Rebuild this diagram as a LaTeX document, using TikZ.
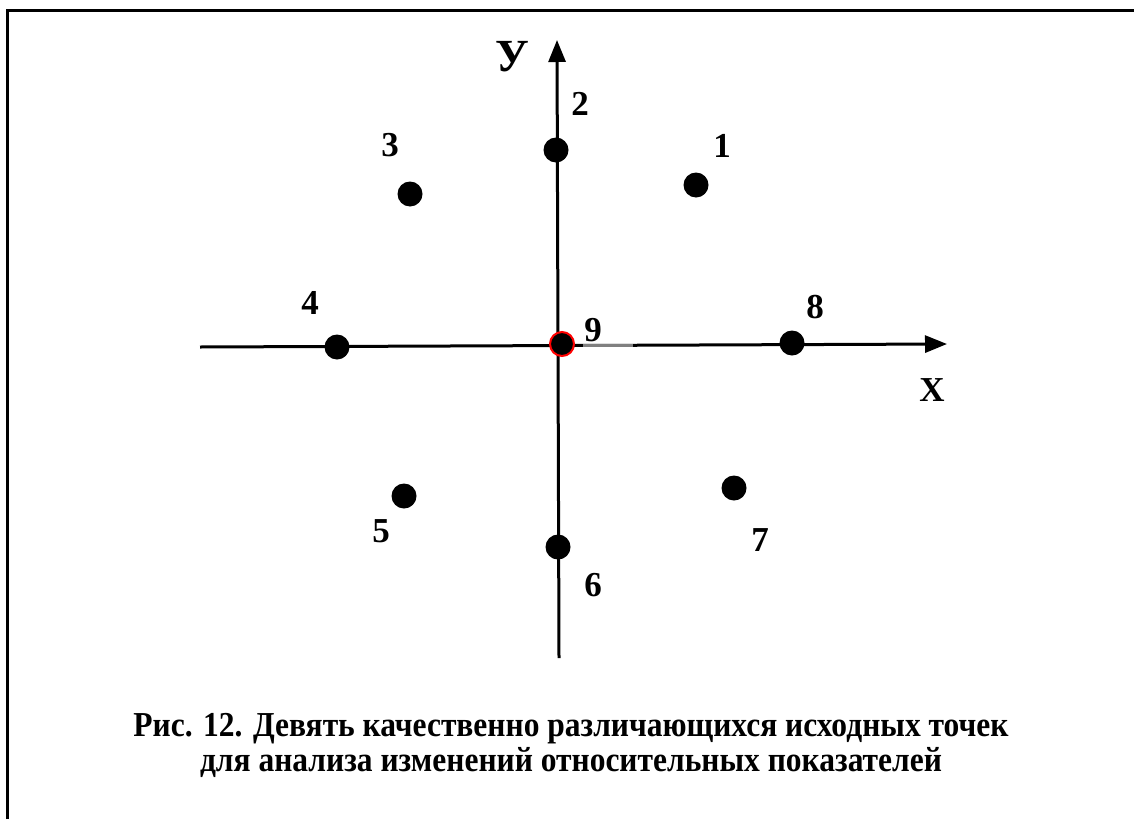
\documentclass[tikz,border=0pt]{standalone}
\usepackage{fontspec}
\setmainfont{Liberation Serif}
\newfontfamily\capfont[FakeStretch=0.9]{Liberation Serif}
\usetikzlibrary{arrows.meta}
\begin{document}
\begin{tikzpicture}[x=1pt,y=-1pt,
  dot/.style={circle,fill=black,inner sep=0pt,minimum size=25pt},
  lbl/.style={font=\fontsize{35}{40}\selectfont\bfseries,inner sep=0pt},
  capline/.style={font=\capfont\fontsize{35}{40}\selectfont\bfseries,inner sep=0pt,anchor=base},
  axis/.style={line width=3pt,-{Triangle[length=22pt,width=17pt]}}]
\useasboundingbox (0,0) rectangle (1134,819);
\draw[line width=3pt] (7,819) -- (7,10) -- (1134,10);
% axes
\coordinate (yb) at (559,658);
\coordinate (yt) at (557,40);
\coordinate (xl) at (200,347);
\coordinate (xr) at (947,344);
\draw[axis] (yb) -- (yt);
\draw[axis] (xl) -- (xr);
\coordinate (g1) at (583,345);
\coordinate (g2) at (633,345);
\draw[line width=3pt,gray] (g1) -- (g2);
% points
\node[dot] (p1) at (696,185) {};
\node[dot] (p2) at (556,150) {};
\node[dot] (p3) at (410,194) {};
\node[dot] (p4) at (337,347) {};
\node[dot] (p5) at (404,496) {};
\node[dot] (p6) at (558,547) {};
\node[dot] (p7) at (734,488) {};
\node[dot] (p8) at (792,343) {};
\node[dot,draw=red,line width=2pt,minimum size=24pt] (p9) at (562,344) {};
% labels
\node[lbl] (l1) at (722,146) {1};
\node[lbl] (l2) at (580,104) {2};
\node[lbl] (l3) at (390,145) {3};
\node[lbl] (l4) at (310,303) {4};
\node[lbl] (l5) at (381,531) {5};
\node[lbl] (l6) at (593,585) {6};
\node[lbl] (l7) at (760,540) {7};
\node[lbl] (l8) at (815,307) {8};
\node[lbl] (l9) at (593,330) {9};
\node[lbl] (lx) at (932,390) {X};
\node[font=\fontsize{46}{50}\selectfont\bfseries,inner sep=0pt] (ly) at (512,57) {У};
\node[capline] (cap1) at (571,736) {Рис. 12. Девять качественно различающихся исходных точек};
\node[capline] (cap2) at (571,771) {для анализа изменений относительных показателей};
\end{tikzpicture}
\end{document}
